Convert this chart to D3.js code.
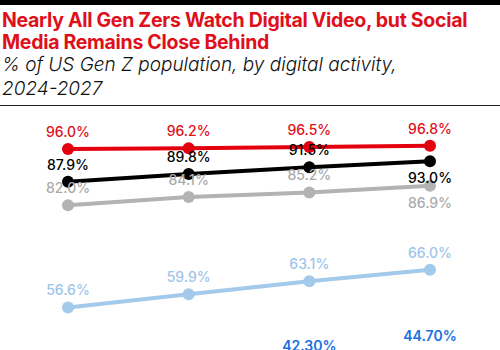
<!DOCTYPE html>
<html>
<head>
<meta charset="utf-8">
<script src="https://cdn.jsdelivr.net/npm/d3@7"></script>
<style>
  body { margin: 0; background: #fff; }
  svg { display: block; font-family: Inter, "Noto Sans", sans-serif; }
</style>
</head>
<body>
<script>
// data
var years = [2024, 2025, 2026, 2027];
var seriesNames = ["Digital video", "Social media", "Digital gaming", "Digital audio", "Other"];
var videoVals  = [96.0, 96.2, 96.5, 96.8];
var socialVals = [87.9, 89.8, 91.5, 93.0];
var grayVals   = [82.0, 84.1, 85.2, 86.9];
var lightVals  = [56.6, 59.9, 63.1, 66.0];
var blueVals   = [null, null, 42.3, 44.7];
var labelFormats = [".1f", ".1f", ".1f", ".1f", ".2f"];

var width = 500, height = 350;

var svg = d3.select("body").append("svg")
    .attr("width", width)
    .attr("height", height);

// header
svg.append("rect").attr("x", 0).attr("y", 0).attr("width", width).attr("height", 5).attr("fill", "#000");
var title = svg.append("text")
    .attr("fill", "#e0101b")
    .attr("font-weight", 700)
    .attr("font-size", 19.5)
    .attr("letter-spacing", -0.3);
title.append("tspan").attr("x", 2).attr("y", 27).text("Nearly All Gen Zers Watch Digital Video, but Social");
title.append("tspan").attr("x", 2).attr("y", 49).text("Media Remains Close Behind");
var sub = svg.append("text")
    .attr("fill", "#111")
    .attr("font-style", "italic")
    .attr("font-weight", 300)
    .attr("font-size", 19);
sub.append("tspan").attr("x", 2).attr("y", 71).text("% of US Gen Z population, by digital activity,");
sub.append("tspan").attr("x", 2).attr("y", 95).text("2024-2027");
svg.append("line").attr("x1", 0).attr("x2", width).attr("y1", 105.5).attr("y2", 105.5)
    .attr("stroke", "#222").attr("stroke-width", 1.2);

// scales
var x = d3.scalePoint().domain(years).range([68, 430]);
var y = d3.scaleLinear().domain([0, 100]).range([535, 133]);

var series = [
  {name: seriesNames[0], values: videoVals,  line: "#e3000f", text: "#e0101b", weight: 500, r: 6, off: 12, below: [false, false, false, false]},
  {name: seriesNames[1], values: socialVals, line: "#000000", text: "#000000", weight: 500, r: 6, off: 12, below: [false, false, false, true]},
  {name: seriesNames[2], values: grayVals,   line: "#b3b3b3", text: "#aaaaaa", weight: 500, r: 6, off: 12, below: [false, false, false, true]},
  {name: seriesNames[3], values: lightVals,  line: "#a3c9eb", text: "#9ec5ea", weight: 500, r: 6, off: 12, below: [false, false, false, false]},
  {name: seriesNames[4], values: blueVals,   line: "#1a6fe0", text: "#1a6fe0", weight: 600, r: 5, off: 14, below: [false, false, false, false]}
];

var line = d3.line()
    .defined(d => d.v != null)
    .x(d => x(d.year))
    .y(d => y(d.v));

// draw bottom series first so the top ones sit above
var order = [4, 3, 2, 1, 0];
order.forEach(function(si) {
  var s = series[si];
  var pts = years.map((yr, i) => ({year: yr, v: s.values[i], below: s.below[i]}));
  var g = svg.append("g").attr("class", "series");
  g.append("path")
      .datum(pts)
      .attr("fill", "none")
      .attr("stroke", s.line)
      .attr("stroke-width", 4)
      .attr("d", line);
  g.selectAll("circle")
    .data(pts.filter(d => d.v != null))
    .enter().append("circle")
      .attr("cx", d => x(d.year))
      .attr("cy", d => y(d.v))
      .attr("r", s.r)
      .attr("fill", s.line);
});

order.forEach(function(si) {
  var s = series[si];
  var fmt = d3.format(labelFormats[si]);
  var pts = years.map((yr, i) => ({year: yr, v: s.values[i], below: s.below[i]}));
  svg.append("g").selectAll("text")
    .data(pts.filter(d => d.v != null))
    .enter().append("text")
      .attr("x", d => x(d.year))
      .attr("y", d => d.below ? y(d.v) + 22 : y(d.v) - s.off)
      .attr("text-anchor", "middle")
      .attr("font-size", 14)
      .attr("font-weight", s.weight)
      .attr("fill", s.text)
      .text(d => fmt(d.v) + "%");
});
</script>
</body>
</html>
